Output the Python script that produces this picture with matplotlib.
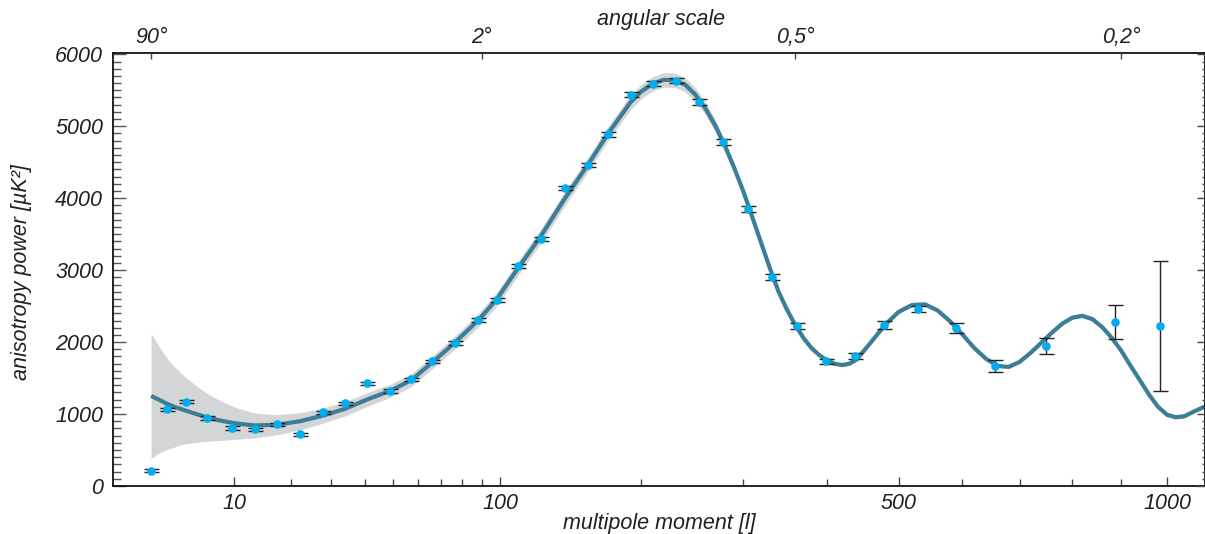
import numpy as np
import matplotlib
matplotlib.use("Agg")
import matplotlib.pyplot as plt
from matplotlib.ticker import FixedLocator, NullLocator, NullFormatter, FixedFormatter

plt.rcParams['font.family'] = ['Liberation Sans', 'DejaVu Sans']
plt.rcParams['font.style'] = 'italic'

# ---- measured data points (multipole l, power in uK^2, error) ----
ell_data = [2, 3, 4.5, 6.5, 9.6, 13.2, 17.2, 22, 27.7, 33.8, 40.8, 48.7, 56.8, 65.8,
            76.4, 88, 98.3, 110.5, 124.9, 141, 157.6, 173.1, 191.3, 210.8, 231.8,
            253.9, 278.4, 305, 332.3, 362.1, 398.8, 437.5, 478.5, 529.3, 589.8,
            656, 749, 887.4, 985]
power_data = [213, 1066, 1172, 941, 806, 788, 857, 718, 1024, 1149, 1427, 1320,
              1483, 1733, 1983, 2307, 2585, 3058, 3433, 4142, 4461, 4888, 5439,
              5592, 5633, 5333, 4781, 3850, 2905, 2224, 1737, 1807, 2238, 2460,
              2196, 1668, 1946, 2279, 2224]
err_data = [25, 25, 25, 25, 25, 25, 25, 25, 25, 25, 25, 25, 25, 25, 28, 28, 30,
            30, 30, 30, 30, 32, 35, 37, 38, 40, 42, 40, 40, 38, 35, 40, 50, 45,
            65, 80, 115, 240, 903]

# ---- model curve and its grey band ----
ell_model = [2, 2.5, 3, 3.5, 4, 5, 6, 7, 8, 10, 13, 17, 22, 28, 34, 41, 49, 57,
             66, 76, 88, 98, 110, 125, 141, 158, 173, 191, 200, 210, 220, 230,
             240, 250, 260, 270, 280, 290, 300, 310, 320, 330, 340, 350, 360, 370,
             380, 390, 400, 410, 420, 430, 440, 460, 480, 500, 520, 540, 560, 580,
             600, 620, 640, 660, 680, 700, 720, 740, 760, 780, 800, 820, 840, 860,
             880, 900, 920, 940, 960, 980, 1000, 1020, 1040, 1060, 1088]
power_model = [1251, 1195, 1140, 1100, 1072, 1020, 975, 940, 912, 873, 842, 850,
               899, 982, 1075, 1205, 1325, 1470, 1720, 1985, 2300, 2590, 3010,
               3480, 4000, 4480, 4900, 5330, 5480, 5590, 5645, 5640, 5580, 5440,
               5250, 5010, 4730, 4420, 4090, 3730, 3370, 3020, 2700, 2450, 2240,
               2060, 1920, 1820, 1745, 1700, 1680, 1700, 1760, 2000, 2240, 2420,
               2515, 2525, 2440, 2290, 2110, 1920, 1770, 1670, 1655, 1725, 1850,
               1990, 2130, 2255, 2340, 2365, 2320, 2210, 2060, 1880, 1670, 1470,
               1270, 1100, 990, 955, 970, 1030, 1105]
band_half = [870, 730, 630, 560, 500, 420, 360, 315, 280, 225, 175, 140, 120, 105,
             100, 95, 90, 90, 90, 90, 95, 95, 100, 100, 100, 100, 100, 100, 100,
             100, 100, 100, 98, 95, 90, 85, 75, 65, 58, 50, 45, 40, 35, 30, 28, 26,
             25, 24, 22, 22, 22, 22, 22, 22, 22, 22, 22, 22, 22, 22, 22, 22, 22,
             22, 22, 22, 22, 22, 22, 22, 22, 22, 22, 22, 22, 22, 22, 22, 22, 22,
             22, 22, 22, 22, 22]

xticks_major = [10, 100, 500, 1000]
xticks_minor = [20, 30, 40, 50, 60, 70, 80, 90, 200, 300, 400, 600, 700, 800, 900]
top_ticks = [2, 90, 360, 900]
top_labels = ['90°', '2°', '0,5°', '0,2°']

TEXT = '#231f20'
CURVE = '#3c7d97'
DOT = '#00aeef'
BAND = '#d4d5d7'


def fwd(x):
    return np.power(np.clip(x, 1e-9, None), 0.4)


def inv(x):
    return np.power(np.clip(x, 0, None), 2.5)


fig = plt.figure(figsize=(12.05, 5.34), dpi=100)
ax = fig.add_axes([113 / 1205, 1 - 486 / 534, (1205 - 113) / 1205, (486 - 53.3) / 534])
ax.set_xscale('function', functions=(fwd, inv))
xlim = (0.528, 1088)
ylim = (0, 6014)

lm = np.array(ell_model)
pm = np.array(power_model)
bh = np.array(band_half)
ax.fill_between(lm, pm - bh, pm + bh, color=BAND, lw=0, zorder=1)
ax.plot(lm, pm, color=CURVE, lw=3.0, zorder=2, solid_capstyle='butt',
        solid_joinstyle='round')
ax.errorbar(ell_data, power_data, yerr=err_data, fmt='none', ecolor='#222222',
            elinewidth=1.0, capsize=5.4, capthick=1.0, zorder=3)
ax.plot(ell_data, power_data, 'o', color=DOT, ms=6.2, mec='none', zorder=4)

ax.set_xlim(*xlim)
ax.set_ylim(*ylim)

ax.xaxis.set_major_locator(FixedLocator(xticks_major))
ax.xaxis.set_major_formatter(FixedFormatter([str(t) for t in xticks_major]))
ax.xaxis.set_minor_locator(FixedLocator(xticks_minor))
ax.xaxis.set_minor_formatter(NullFormatter())
ax.yaxis.set_major_locator(FixedLocator(np.arange(0, 6001, 1000)))
ax.yaxis.set_minor_locator(FixedLocator(np.arange(0, 6001, 100)))

for s in ax.spines.values():
    s.set_linewidth(1.3)
    s.set_color('#111111')

ax.tick_params(axis='x', which='major', direction='in', length=6.5, width=1.0,
               color='#444444', labelsize=15.5, labelcolor=TEXT, pad=5, top=False)
ax.tick_params(axis='x', which='minor', direction='in', length=4.7, width=1.0,
               color='#444444', top=False)
ax.tick_params(axis='y', which='major', direction='in', length=9.1, width=1.0,
               color='#555555', labelsize=15.5, labelcolor=TEXT, pad=7, right=False)
ax.tick_params(axis='y', which='minor', direction='in', length=5.4, width=1.0,
               color='#555555', right=False)

# top axis: angular scale
axt = ax.twiny()
axt.set_xscale('function', functions=(fwd, inv))
axt.set_xlim(*xlim)
axt.xaxis.set_major_locator(FixedLocator(top_ticks))
axt.xaxis.set_major_formatter(FixedFormatter(top_labels))
axt.xaxis.set_minor_locator(NullLocator())
axt.tick_params(axis='x', which='major', direction='in', length=4.0, width=1.0,
                color='#444444', labelsize=15.5, labelcolor=TEXT, pad=3.5)
for s in axt.spines.values():
    s.set_visible(False)

# right ticks
axr = ax.twinx()
axr.set_ylim(*ylim)
axr.yaxis.set_major_locator(FixedLocator(np.arange(0, 6001, 1000)))
axr.yaxis.set_minor_locator(FixedLocator(np.arange(0, 6001, 100)))
axr.yaxis.set_major_formatter(NullFormatter())
axr.tick_params(axis='y', which='major', direction='in', length=5.8, width=1.0,
                color='#444444')
axr.tick_params(axis='y', which='minor', direction='in', length=2.5, width=1.0,
                color='#444444')
for s in axr.spines.values():
    s.set_visible(False)

fig.text(659 / 1205, 1 - 523 / 534, 'multipole moment [l]', ha='center', va='center',
         fontsize=15.5, color=TEXT)
fig.text(661 / 1205, 1 - 20 / 534, 'angular scale', ha='center', va='center',
         fontsize=15.5, color=TEXT)
fig.text(22 / 1205, 1 - 272 / 534, 'anisotropy power [µK²]', ha='center', va='center',
         rotation=90, fontsize=15.5, color=TEXT)

fig.savefig('out.png', dpi=100)
